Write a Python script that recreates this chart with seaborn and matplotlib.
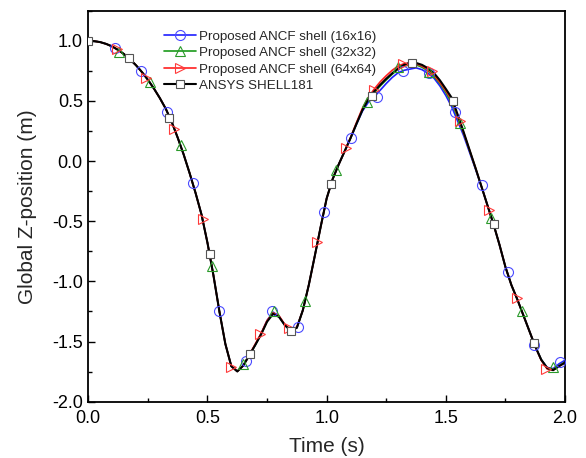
import matplotlib
matplotlib.use("Agg")
import matplotlib.pyplot as plt
import seaborn as sns
from matplotlib.lines import Line2D
from matplotlib.ticker import MultipleLocator

# ---------------- data ----------------
t_line = [0.000, 0.025, 0.050, 0.075, 0.100, 0.125, 0.150, 0.175, 0.200, 0.225,
          0.250, 0.275, 0.300, 0.325, 0.350, 0.375, 0.400, 0.425, 0.450, 0.475,
          0.500, 0.525, 0.550, 0.575, 0.600, 0.625, 0.650, 0.675, 0.700, 0.725,
          0.750, 0.775, 0.800, 0.825, 0.850, 0.875, 0.900, 0.925, 0.950, 0.975,
          1.000, 1.025, 1.050, 1.075, 1.100, 1.125, 1.150, 1.175, 1.200, 1.225,
          1.250, 1.275, 1.300, 1.325, 1.350, 1.375, 1.400, 1.425, 1.450, 1.475,
          1.500, 1.525, 1.550, 1.575, 1.600, 1.625, 1.650, 1.675, 1.700, 1.725,
          1.750, 1.775, 1.800, 1.825, 1.850, 1.875, 1.900, 1.925, 1.950, 1.975,
          2.000]

z_ansys_line = [1.000, 0.997, 0.989, 0.974, 0.953, 0.924, 0.889, 0.846, 0.797, 0.740,
                0.676, 0.604, 0.524, 0.435, 0.325, 0.195, 0.055, -0.100, -0.265, -0.445,
                -0.680, -0.950, -1.250, -1.520, -1.705, -1.748, -1.700, -1.615, -1.530, -1.440,
                -1.335, -1.270, -1.295, -1.365, -1.410, -1.385, -1.240, -1.030, -0.790, -0.545,
                -0.310, -0.150, -0.030, 0.080, 0.190, 0.310, 0.425, 0.515, 0.580, 0.635,
                0.685, 0.730, 0.770, 0.800, 0.818, 0.816, 0.800, 0.772, 0.732, 0.672,
                0.600, 0.525, 0.385, 0.240, 0.090, -0.060, -0.215, -0.370, -0.525, -0.695,
                -0.880, -1.030, -1.150, -1.280, -1.410, -1.540, -1.650, -1.720, -1.738, -1.705,
                -1.675]

z_16_line = [1.000, 0.997, 0.989, 0.974, 0.953, 0.924, 0.889, 0.846, 0.797, 0.740,
             0.676, 0.604, 0.524, 0.435, 0.325, 0.195, 0.055, -0.100, -0.265, -0.445,
             -0.680, -0.950, -1.250, -1.520, -1.705, -1.748, -1.700, -1.615, -1.530, -1.435,
             -1.325, -1.255, -1.290, -1.365, -1.410, -1.385, -1.240, -1.030, -0.790, -0.545,
             -0.310, -0.150, -0.030, 0.080, 0.190, 0.305, 0.415, 0.490, 0.535, 0.590,
             0.645, 0.695, 0.735, 0.755, 0.765, 0.775, 0.760, 0.730, 0.690, 0.625,
             0.545, 0.450, 0.330, 0.210, 0.070, -0.070, -0.215, -0.370, -0.525, -0.695,
             -0.880, -1.030, -1.150, -1.280, -1.410, -1.540, -1.650, -1.715, -1.725, -1.685,
             -1.655]

z_32_line = [1.000, 0.997, 0.989, 0.974, 0.953, 0.924, 0.889, 0.846, 0.797, 0.740,
             0.676, 0.604, 0.524, 0.435, 0.325, 0.195, 0.055, -0.100, -0.265, -0.445,
             -0.680, -0.950, -1.250, -1.520, -1.705, -1.748, -1.700, -1.615, -1.530, -1.440,
             -1.330, -1.262, -1.292, -1.365, -1.410, -1.385, -1.240, -1.030, -0.790, -0.545,
             -0.310, -0.150, -0.030, 0.080, 0.190, 0.310, 0.425, 0.510, 0.570, 0.625,
             0.675, 0.722, 0.765, 0.790, 0.800, 0.800, 0.780, 0.750, 0.705, 0.645,
             0.570, 0.480, 0.360, 0.230, 0.085, -0.062, -0.215, -0.370, -0.525, -0.695,
             -0.880, -1.030, -1.150, -1.280, -1.410, -1.540, -1.650, -1.718, -1.732, -1.700,
             -1.670]

z_64_line = [1.000, 0.997, 0.989, 0.974, 0.953, 0.924, 0.889, 0.846, 0.797, 0.740,
             0.676, 0.604, 0.524, 0.435, 0.325, 0.195, 0.055, -0.100, -0.265, -0.445,
             -0.680, -0.950, -1.250, -1.520, -1.705, -1.748, -1.700, -1.612, -1.522, -1.430,
             -1.325, -1.262, -1.285, -1.360, -1.400, -1.380, -1.240, -1.030, -0.790, -0.545,
             -0.310, -0.150, -0.030, 0.080, 0.195, 0.320, 0.440, 0.530, 0.600, 0.660,
             0.710, 0.755, 0.790, 0.810, 0.815, 0.810, 0.790, 0.760, 0.715, 0.655,
             0.585, 0.505, 0.375, 0.235, 0.088, -0.060, -0.215, -0.370, -0.525, -0.695,
             -0.880, -1.030, -1.150, -1.280, -1.410, -1.540, -1.655, -1.728, -1.738, -1.705,
             -1.675]

# marker samples
t_16 = [0.11, 0.22, 0.33, 0.44, 0.55, 0.66, 0.77, 0.88, 0.99, 1.10, 1.21, 1.32,
        1.43, 1.54, 1.65, 1.76, 1.87, 1.98]
z_16 = [0.94, 0.75, 0.41, -0.18, -1.25, -1.66, -1.25, -1.375, -0.42, 0.19, 0.53, 0.75,
        0.73, 0.41, -0.20, -0.92, -1.53, -1.67]

t_32 = [0.13, 0.26, 0.39, 0.52, 0.65, 0.78, 0.91, 1.04, 1.17, 1.30, 1.43, 1.56,
        1.69, 1.82, 1.95]
z_32 = [0.91, 0.655, 0.13, -0.87, -1.69, -1.25, -1.16, -0.074, 0.49, 0.78, 0.74, 0.32,
        -0.475, -1.25, -1.715]

t_64 = [0.12, 0.24, 0.36, 0.48, 0.60, 0.72, 0.84, 0.96, 1.08, 1.20, 1.32, 1.44,
        1.56, 1.68, 1.80, 1.92]
z_64 = [0.93, 0.69, 0.27, -0.48, -1.71, -1.44, -1.39, -0.675, 0.11, 0.59, 0.81, 0.75,
        0.33, -0.41, -1.14, -1.73]

t_ansys = [0.00, 0.17, 0.34, 0.51, 0.68, 0.85, 1.02, 1.19, 1.36, 1.53, 1.70, 1.87]
z_ansys = [1.00, 0.856, 0.357, -0.775, -1.604, -1.41, -0.19, 0.542, 0.816, 0.50, -0.522, -1.515]

labels = ["Proposed ANCF shell (16x16)", "Proposed ANCF shell (32x32)",
          "Proposed ANCF shell (64x64)", "ANSYS SHELL181"]
x_ticks = ["0.0", "0.5", "1.0", "1.5", "2.0"]
y_ticks = ["-2.0", "-1.5", "-1.0", "-0.5", "0.0", "0.5", "1.0"]

# ---------------- styling ----------------
sns.set_theme(style="ticks")
plt.rcParams["font.family"] = ["Liberation Sans", "DejaVu Sans"]

fig = plt.figure(figsize=(5.86, 4.58), dpi=100)
ax = fig.add_axes([0.1507, 0.1229, 0.8135, 0.8537])

series = [
    (t_line, z_16_line, t_16, z_16, "#1f1fff", "o", 7.2, "none"),
    (t_line, z_32_line, t_32, z_32, "#1a9a1a", "^", 7.8, "none"),
    (t_line, z_64_line, t_64, z_64, "#ff2020", ">", 7.8, "none"),
    (t_line, z_ansys_line, t_ansys, z_ansys, "black", "s", 6.2, "white"),
]
line_lw = [1.2, 1.2, 1.2, 1.5]
marker_ec = ["#4a4aff", "#2a9a2a", "#ff3a3a", "#555555"]

# lines first
for i, (tl, zl, tm, zm, col, mk, ms, fc) in enumerate(series):
    sns.lineplot(x=tl, y=zl, ax=ax, color=col, lw=line_lw[i], zorder=2 + i * 0.1)

# markers on top
for i, (tl, zl, tm, zm, col, mk, ms, fc) in enumerate(series):
    sns.lineplot(x=tm, y=zm, ax=ax, linestyle="", marker=mk, markersize=ms,
                 markerfacecolor=fc, markeredgecolor=marker_ec[i],
                 markeredgewidth=0.8, zorder=3 + i * 0.1)

ax.set_xlim(0, 2.0)
ax.set_ylim(-2.0, 1.25)
ax.set_xticks([0.0, 0.5, 1.0, 1.5, 2.0])
ax.set_xticklabels(x_ticks)
ax.set_yticks([-2.0, -1.5, -1.0, -0.5, 0.0, 0.5, 1.0])
ax.set_yticklabels(y_ticks)
ax.xaxis.set_minor_locator(MultipleLocator(0.25))
ax.yaxis.set_minor_locator(MultipleLocator(0.25))
ax.tick_params(which="both", direction="in", colors="black", width=1.0,
               top=False, right=False)
ax.tick_params(axis="x", which="major", length=5, labelsize=13, pad=6)
ax.tick_params(axis="y", which="major", length=5, labelsize=13, pad=4)
ax.tick_params(which="minor", length=3)
for sp in ax.spines.values():
    sp.set_visible(True)
    sp.set_linewidth(1.3)
    sp.set_color("black")

ax.set_xlabel("Time (s)", fontsize=15, labelpad=7)
ax.set_ylabel("Global Z-position (m)", fontsize=15, labelpad=11)

handles = []
for i, (tl, zl, tm, zm, col, mk, ms, fc) in enumerate(series):
    handles.append(Line2D([], [], color=col, lw=line_lw[i], marker=mk, markersize=ms,
                          markerfacecolor=fc, markeredgecolor=marker_ec[i],
                          markeredgewidth=0.8))
leg = ax.legend(handles, labels, loc="upper left", bbox_to_anchor=(0.158, 0.950),
                frameon=False, fontsize=9.6, handlelength=2.4, handletextpad=0.25,
                labelspacing=0.31, borderpad=0.0, borderaxespad=0.0, numpoints=1)

fig.savefig("out.png", dpi=100, facecolor="white")
